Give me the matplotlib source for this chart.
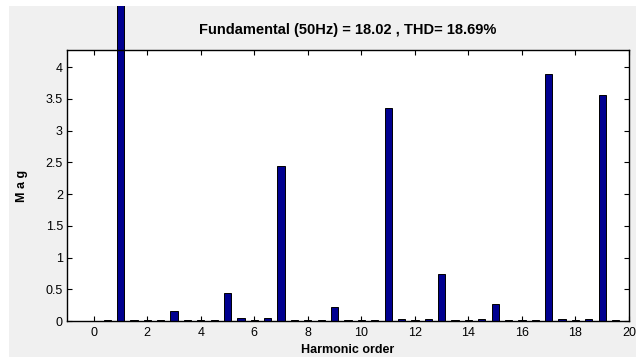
import matplotlib
matplotlib.use('Agg')
import matplotlib.pyplot as plt
from matplotlib.patches import Rectangle
import numpy as np

# harmonic orders (half-step resolution) and magnitudes
orders = np.arange(0, 20, 0.5)
mags = [0.0, 0.02, 18.02, 0.01, 0.01, 0.02, 0.15, 0.02,
        0.02, 0.01, 0.44, 0.04, 0.02, 0.04, 2.44, 0.02,
        0.02, 0.01, 0.22, 0.02, 0.02, 0.01, 3.35, 0.03,
        0.02, 0.03, 0.74, 0.02, 0.02, 0.03, 0.26, 0.02,
        0.02, 0.01, 3.89, 0.03, 0.02, 0.03, 3.56, 0.02]
x_ticks = list(range(0, 21, 2))
y_ticks = [0, 0.5, 1, 1.5, 2, 2.5, 3, 3.5, 4]
title = 'Fundamental (50Hz) = 18.02 , THD= 18.69%'

plt.rcParams['font.family'] = ['Liberation Sans', 'DejaVu Sans']
W, H = 636, 358

fig = plt.figure(figsize=(W / 100, H / 100), dpi=100, facecolor='white')
panel = Rectangle((9 / W, 1 / H), 1 - 9 / W, 1 - 7 / H,
                  transform=fig.transFigure, facecolor='#f0f0f0',
                  edgecolor='none', zorder=-10)
fig.patches.append(panel)

left, right, top, bottom = 67, 629, 50, 321
ax = fig.add_axes([left / W, 1 - bottom / H, (right - left) / W, (bottom - top) / H])
ax.set_facecolor('white')

bars = ax.bar(orders, mags, width=0.27, color='#000090', edgecolor='black',
              linewidth=0.7, zorder=2)
for b in bars:
    b.set_clip_path(panel)

ax.set_xlim(-1, 20)
ax.set_ylim(0, 4.27)
ax.set_xticks(x_ticks)
ax.set_yticks(y_ticks)
ax.set_yticklabels(['0', '0.5', '1', '1.5', '2', '2.5', '3', '3.5', '4'])
ax.tick_params(direction='in', length=3.6, width=0.8, labelsize=9,
               top=True, right=True, pad=3)
ax.tick_params(axis='x', pad=4)
for s in ax.spines.values():
    s.set_linewidth(1.0)
    s.set_zorder(3)

fig.text(348 / W, 1 - 30 / H, title, ha='center', va='center',
         fontsize=10.5, fontweight='bold')
fig.text(22 / W, 1 - 186 / H, 'M a g', ha='center', va='center',
         rotation=90, fontsize=9, fontweight='bold')
fig.text(348 / W, 5 / H, 'Harmonic order', ha='center', va='baseline',
         fontsize=9, fontweight='bold')

fig.savefig('out.png', dpi=100, facecolor=fig.get_facecolor())
